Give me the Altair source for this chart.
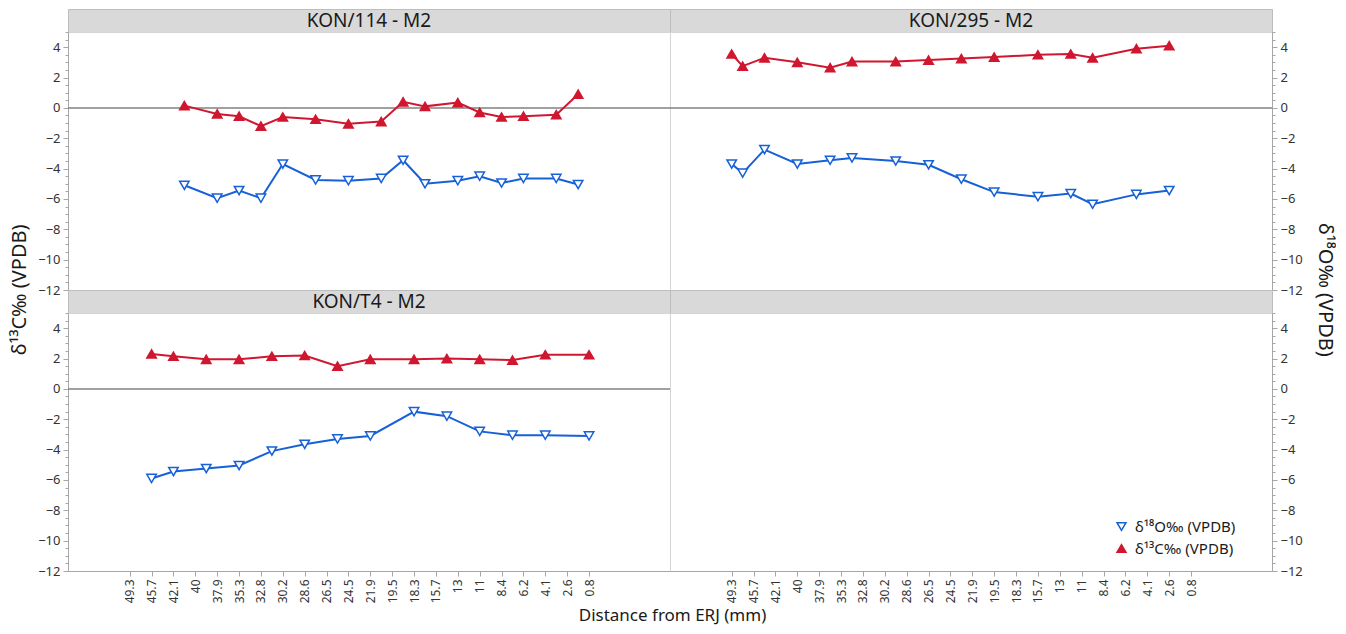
import json
import altair as alt
import pandas as pd

FONT = "Noto Sans"

# ---- data ----
x_labels = ["49.3", "45.7", "42.1", "40", "37.9", "35.3", "32.8", "30.2", "28.6", "26.5", "24.5",
            "21.9", "19.5", "18.3", "15.7", "13", "11", "8.4", "6.2", "4.1", "2.6", "0.8"]

panel_names = ["KON/114 - M2", "KON/295 - M2", "KON/T4 - M2"]

O18 = "δ¹⁸O‰ (VPDB)"
C13 = "δ¹³C‰ (VPDB)"
series_names = [O18, C13]

k114_pos = [2.5, 4, 5, 6, 7, 8.5, 10, 11.5, 12.5, 13.5, 15, 16, 17, 18, 19.5, 20.5]
k114_c13 = [0.15, -0.4, -0.55, -1.2, -0.6, -0.75, -1.05, -0.9, 0.4, 0.1, 0.35, -0.3, -0.6, -0.55, -0.45, 0.9]
k114_o18 = [-5.1, -5.95, -5.45, -5.95, -3.7, -4.75, -4.8, -4.65, -3.45, -5.0, -4.8, -4.5, -4.95, -4.65, -4.65, -5.05]

k295_pos = [0, 0.5, 1.5, 3, 4.5, 5.5, 7.5, 9, 10.5, 12, 14, 15.5, 16.5, 18.5, 20]
k295_c13 = [3.55, 2.75, 3.3, 3.0, 2.65, 3.05, 3.05, 3.15, 3.25, 3.35, 3.5, 3.55, 3.3, 3.9, 4.1]
k295_o18 = [-3.7, -4.3, -2.75, -3.7, -3.45, -3.3, -3.5, -3.75, -4.7, -5.55, -5.85, -5.65, -6.35, -5.7, -5.45]

kT4_pos = [1, 2, 3.5, 5, 6.5, 8, 9.5, 11, 13, 14.5, 16, 17.5, 19, 21]
kT4_c13 = [2.3, 2.15, 1.95, 1.95, 2.15, 2.2, 1.5, 1.95, 1.95, 2.0, 1.95, 1.9, 2.25, 2.25]
kT4_o18 = [-5.9, -5.45, -5.25, -5.05, -4.1, -3.65, -3.3, -3.1, -1.5, -1.8, -2.8, -3.05, -3.05, -3.1]

y_ticks = [v / 2 for v in range(-24, 11)]   # -12 .. 5 every 0.5
zero_ref = [0]

# ---- styles ----
BLUE = "#1660d8"
RED = "#d0172f"
W, H, HH = 602, 258, 23
AXIS_GRAY = "#a6a6a6"
LABEL = "#333333"
TEXT = "#1a1a1a"


def long_df(pos, c13, o18):
    rows = [{"pos": p, "val": v, "series": O18} for p, v in zip(pos, o18)]
    rows += [{"pos": p, "val": v, "series": C13} for p, v in zip(pos, c13)]
    return pd.DataFrame(rows)


xscale = alt.Scale(domain=[-2.82, 24.7], nice=False, zero=False)
yscale = alt.Scale(domain=[-12, 5], nice=False, zero=False)
color_scale = alt.Scale(domain=series_names, range=[BLUE, RED])
fill_scale = alt.Scale(domain=series_names, range=["white", RED])
shape_scale = alt.Scale(domain=series_names, range=["triangle-down", "triangle-up"])

x_axis = alt.Axis(values=list(range(len(x_labels))),
                  labelExpr=json.dumps(x_labels) + "[datum.value]",
                  labelAngle=-90, labelFontSize=12, labelFont=FONT, labelColor=LABEL,
                  labelOverlap=False, labelPadding=3, tickSize=5, tickColor=AXIS_GRAY,
                  domainColor=AXIS_GRAY, grid=False, title=None)


def y_axis(orient):
    return alt.Axis(orient=orient, values=y_ticks,
                    labelExpr="datum.value % 2 === 0 ? format(datum.value, 'd') : ''",
                    labelOverlap=False, labelFontSize=13, labelFont=FONT, labelColor=LABEL,
                    labelPadding=3, tickSize=5, tickColor=AXIS_GRAY,
                    tickDash={"condition": {"test": "datum.value % 2 !== 0", "value": [3, 10]},
                              "value": [6, 0]},
                    domainColor=AXIS_GRAY, grid=False, title=None)


def plot_cell(df, orient, show_x):
    x = alt.X("pos:Q", scale=xscale, axis=x_axis if show_x else None)
    y = alt.Y("val:Q", scale=yscale, axis=y_axis(orient))
    zero = alt.Chart(pd.DataFrame({"ref": zero_ref})).mark_rule(
        color="#808080", strokeWidth=1.5).encode(
        y=alt.Y("ref:Q", scale=yscale, axis=y_axis(orient)))
    lines = alt.Chart(df).mark_line(strokeWidth=2).encode(
        x=x, y=y, color=alt.Color("series:N", scale=color_scale, legend=None))
    pts = alt.Chart(df).mark_point(size=90, strokeWidth=1.5, opacity=1).encode(
        x=x, y=y,
        color=alt.Color("series:N", scale=color_scale, legend=None),
        fill=alt.Fill("series:N", scale=fill_scale, legend=None),
        shape=alt.Shape("series:N", scale=shape_scale, legend=None))
    return alt.layer(zero, lines, pts).properties(width=W, height=H)


def header_cell(name):
    return alt.Chart(pd.DataFrame({"panel": [name]})).mark_text(
        font=FONT, fontSize=19, fontWeight="normal", color=TEXT, baseline="middle").encode(
        text="panel:N").properties(
        width=W, height=HH, view=alt.ViewBackground(fill="#d9d9d9", stroke="#bdbdbd"))


def empty_cell():
    leg = alt.Legend(title=None, orient="none", legendX=444, legendY=206,
                     labelFont=FONT, labelFontSize=15, labelColor=TEXT, labelOffset=6,
                     symbolSize=80, symbolStrokeWidth=1.5, rowPadding=6, labelLimit=0)
    return alt.Chart(pd.DataFrame({"series": series_names})).transform_filter(
        "false").mark_point(size=90, strokeWidth=1.5, opacity=1).encode(
        x=alt.X("pos:Q", scale=xscale, axis=x_axis),
        y=alt.Y("val:Q", scale=yscale, axis=y_axis("right")),
        color=alt.Color("series:N", scale=color_scale, legend=leg),
        fill=alt.Fill("series:N", scale=fill_scale, legend=leg),
        shape=alt.Shape("series:N", scale=shape_scale, legend=leg),
    ).properties(width=W, height=H)


cells = [
    header_cell(panel_names[0]), header_cell(panel_names[1]),
    plot_cell(long_df(k114_pos, k114_c13, k114_o18), "left", False),
    plot_cell(long_df(k295_pos, k295_c13, k295_o18), "right", False),
    header_cell(panel_names[2]), header_cell(""),
    plot_cell(long_df(kT4_pos, kT4_c13, kT4_o18), "left", True),
    empty_cell(),
]


def indep(c):
    return c.resolve_scale(color="independent", fill="independent", shape="independent").resolve_legend(
        color="independent", fill="independent", shape="independent")


grid = indep(alt.concat(*cells, columns=2, spacing=0, bounds="flush",
                        title=alt.TitleParams(text=C13, orient="left", anchor="middle", font=FONT,
                                              fontSize=20, fontWeight="normal", color=TEXT,
                                              offset=7, dx=16)))
mid = indep(alt.hconcat(grid, title=alt.TitleParams(text=O18, orient="right", anchor="middle",
                                                      font=FONT, fontSize=20, fontWeight="normal",
                                                      color=TEXT, offset=12, dx=-16)))
chart = indep(alt.vconcat(mid, title=alt.TitleParams(text="Distance from ERJ (mm)", orient="bottom",
                                                      anchor="middle", font=FONT, fontSize=17,
                                                      fontWeight="normal", color=TEXT,
                                                      offset=5)))
chart = chart.properties(padding={"left": 2, "top": 0, "right": 1, "bottom": 0},
                         background="white").configure_view(stroke="#d4d4d4", strokeWidth=1)

chart.save("out.html", embed_options={"renderer": "svg", "actions": False})
